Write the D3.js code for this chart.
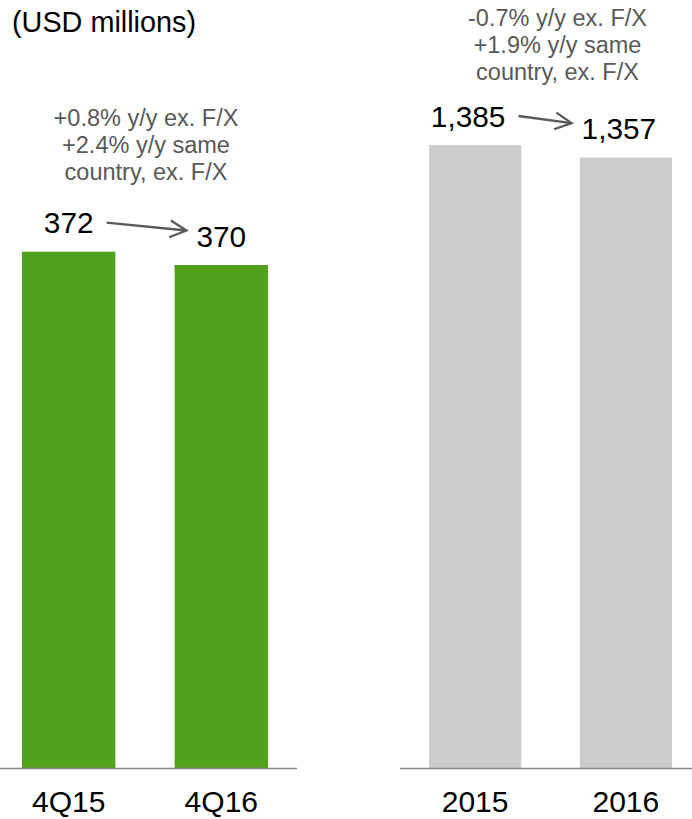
<!DOCTYPE html>
<html>
<head>
<meta charset="utf-8">
<script src="https://cdn.jsdelivr.net/npm/d3@7/dist/d3.min.js"></script>
<style>
  html, body { margin: 0; padding: 0; background: #ffffff; }
  svg { display: block; font-family: "Liberation Sans", Arial, Helvetica, sans-serif; }
</style>
</head>
<body>
<svg id="chart" width="692" height="819"></svg>
<script>
// Quarterly revenue (fourth quarter)
const qtrCategories = ["4Q15", "4Q16"];
const qtrValues = [372, 370];
const qtrNotes = ["+0.8% y/y ex. F/X", "+2.4% y/y same", "country, ex. F/X"];

// Full-year revenue
const yearCategories = ["2015", "2016"];
const yearValues = [1385, 1357];
const yearNotes = ["-0.7% y/y ex. F/X", "+1.9% y/y same", "country, ex. F/X"];

const unitsLabel = "(USD millions)";

const svg = d3.select("#chart");
const baseline = 768;
const fmt = d3.format(",");

svg.append("text")
  .attr("x", 12).attr("y", 32)
  .attr("font-size", 28.8)
  .attr("fill", "#000")
  .text(unitsLabel);

const panels = [
  {
    categories: qtrCategories, values: qtrValues, notes: qtrNotes,
    color: "#52a11c",
    axis: [0, 297], band: [22, 268],
    // quarterly panel uses a zoomed value axis
    y: d3.scaleLinear().domain([294.4, d3.max(qtrValues)]).range([baseline, 251.7]),
    noteX: 146, noteY: 125.5, labelDx: 0
  },
  {
    categories: yearCategories, values: yearValues, notes: yearNotes,
    color: "#cccccc",
    axis: [400, 692], band: [429, 672],
    y: d3.scaleLinear().domain([0, d3.max(yearValues)]).range([baseline, 145]),
    noteX: 557.5, noteY: 26, labelDx: -7
  }
];

panels.forEach(p => {
  const g = svg.append("g");
  const x = d3.scaleBand()
    .domain(p.categories)
    .range(p.band)
    .paddingInner(0.388)
    .paddingOuter(0);

  const rows = p.categories.map((c, i) => ({ c, v: p.values[i] }));

  g.selectAll("rect.bar")
    .data(rows)
    .join("rect")
    .attr("class", "bar")
    .attr("x", d => x(d.c))
    .attr("width", x.bandwidth())
    .attr("y", d => p.y(d.v))
    .attr("height", d => baseline - p.y(d.v))
    .attr("fill", p.color);

  // category axis (line + labels, no ticks)
  const axis = d3.axisBottom(x).tickSize(0).tickPadding(0);
  const ag = g.append("g").attr("transform", `translate(0,${baseline})`).call(axis);
  ag.select(".domain").remove();
  ag.selectAll("text")
    .attr("font-size", 30)
    .attr("font-family", "Liberation Sans, Arial, sans-serif")
    .attr("fill", "#000")
    .attr("dy", 0)
    .attr("y", 44.3);
  g.append("line")
    .attr("x1", p.axis[0]).attr("x2", p.axis[1])
    .attr("y1", baseline + 0.5).attr("y2", baseline + 0.5)
    .attr("stroke", "#898989")
    .attr("stroke-width", 1.5);

  // value labels
  const labels = g.selectAll("text.val")
    .data(rows)
    .join("text")
    .attr("class", "val")
    .attr("x", d => x(d.c) + x.bandwidth() / 2 + p.labelDx)
    .attr("y", d => p.y(d.v) - 18.5)
    .attr("text-anchor", "middle")
    .attr("font-size", 29.8)
    .attr("fill", "#000")
    .text(d => fmt(d.v));

  // change arrow between the two value labels
  const nodes = labels.nodes();
  const b0 = nodes[0].getBBox();
  const b1 = nodes[1].getBBox();
  const y0 = p.y(rows[0].v) - 18.5 - 10.5;
  const y1 = p.y(rows[1].v) - 18.5 - 16;
  const x0 = b0.x + b0.width + 13;
  const x1 = b1.x - 10;
  const ang = Math.atan2(y1 - y0, x1 - x0);
  const head = 18.5, spread = 0.47;
  g.append("line")
    .attr("x1", x0).attr("y1", y0).attr("x2", x1).attr("y2", y1)
    .attr("stroke", "#595959").attr("stroke-width", 2.3);
  g.append("path")
    .attr("d", d3.line()([
      [x1 - head * Math.cos(ang - spread), y1 - head * Math.sin(ang - spread)],
      [x1, y1],
      [x1 - head * Math.cos(ang + spread), y1 - head * Math.sin(ang + spread)]
    ]))
    .attr("fill", "none")
    .attr("stroke", "#595959")
    .attr("stroke-width", 2.3)
    .attr("stroke-linejoin", "miter");

  // growth note above the panel
  g.append("text")
    .attr("x", p.noteX)
    .attr("y", p.noteY)
    .attr("text-anchor", "middle")
    .attr("font-size", 23.5)
    .attr("fill", "#595959")
    .selectAll("tspan")
    .data(p.notes)
    .join("tspan")
    .attr("x", p.noteX)
    .attr("dy", (d, i) => i === 0 ? 0 : 27)
    .text(d => d);
});
</script>
</body>
</html>
